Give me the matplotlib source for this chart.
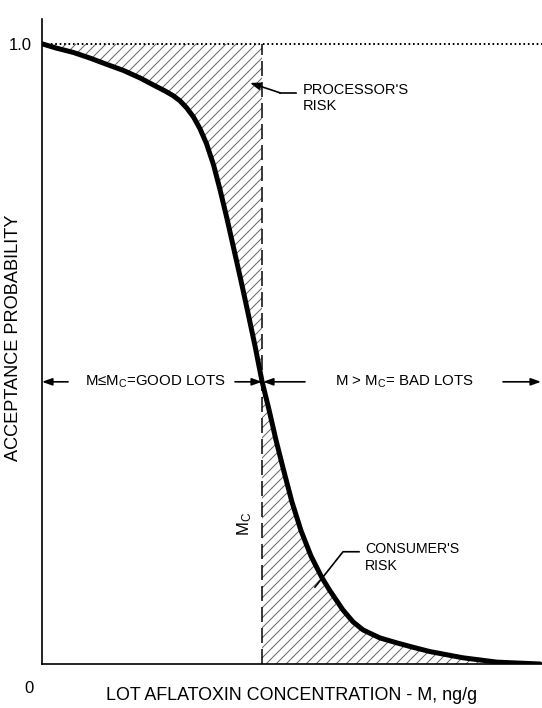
import matplotlib
matplotlib.use("Agg")
import matplotlib.pyplot as plt

plt.rcParams['font.family'] = ['Liberation Sans', 'DejaVu Sans']
plt.rcParams['mathtext.fontset'] = 'custom'
plt.rcParams['mathtext.rm'] = 'Liberation Sans'
plt.rcParams['mathtext.it'] = 'Liberation Sans:italic'
plt.rcParams['hatch.linewidth'] = 0.6
plt.rcParams['lines.scale_dashes'] = False

# ---- data ----
conc = [0.00, 0.29, 0.63, 0.96, 1.29, 1.63, 1.96, 2.29, 2.46, 2.63, 2.76, 2.89,
        3.03, 3.16, 3.29, 3.43, 3.56, 3.70, 3.84, 3.98, 4.12, 4.26, 4.40, 4.54,
        4.68, 4.84, 5.00, 5.18, 5.38, 5.60, 5.76, 6.02, 6.22, 6.42, 6.60, 6.76,
        7.10, 7.42, 7.76, 8.42, 9.10, 9.96]
prob = [1.000, 0.993, 0.986, 0.977, 0.967, 0.957, 0.945, 0.931, 0.924, 0.916, 0.908, 0.897,
        0.882, 0.863, 0.839, 0.805, 0.765, 0.718, 0.668, 0.618, 0.566, 0.513, 0.456, 0.410,
        0.361, 0.310, 0.261, 0.215, 0.174, 0.139, 0.118, 0.087, 0.068, 0.055, 0.048, 0.042,
        0.034, 0.027, 0.020, 0.010, 0.003, 0.000]
m_c = 4.4
ytick_vals = [1.0]
ytick_labels = ['1.0']
xlabel = 'LOT AFLATOXIN CONCENTRATION - M, ng/g'
ylabel = 'ACCEPTANCE PROBABILITY'

fig = plt.figure(figsize=(542 / 120, 708 / 120), dpi=120)
ax = fig.add_axes([42 / 542, 44 / 708, 500 / 542, 645 / 708])
ax.set_xlim(0, 10)
ax.set_ylim(0, 1.04)

for s in ['top', 'right']:
    ax.spines[s].set_visible(False)
for s in ['left', 'bottom']:
    ax.spines[s].set_linewidth(1.0)
    ax.spines[s].set_color('black')

# hatched risk regions
left_x = [x for x in conc if x <= m_c]
left_p = prob[:len(left_x)]
right_x = [x for x in conc if x >= m_c]
right_p = prob[len(conc) - len(right_x):]
ax.fill_between(left_x, left_p, 1.0, facecolor='none', edgecolor='#666666',
                linewidth=0, hatch='////')
ax.fill_between(right_x, 0, right_p, facecolor='none', edgecolor='#666666',
                linewidth=0, hatch='////')

# OC curve
ax.plot(conc, prob, color='black', linewidth=3.0, solid_capstyle='round',
        solid_joinstyle='round', zorder=5)

# dotted line at 1.0
ax.axhline(1.0, color='black', linestyle=':', linewidth=1.2, zorder=4)

# M_C dashed line
ax.plot([m_c, m_c], [0, 1.0], color='black', linewidth=0.9, dashes=(9, 3.6), zorder=4)
ax.text(4.06, 0.226, r'M$_\mathrm{C}$', rotation=90, ha='center', va='center', fontsize=10)

# ticks
ax.set_xticks([])
ax.set_yticks(ytick_vals)
ax.set_yticklabels(ytick_labels, fontsize=10)
ax.tick_params(axis='y', length=0, pad=6)
ax.text(-0.26, -0.04, '0', ha='center', va='center', fontsize=10)

ax.set_xlabel(xlabel, fontsize=10.7, labelpad=14)
fig.text(14 / 542, 1 - 338 / 708, ylabel, rotation=90, ha='center', va='center',
         fontsize=10.9)

# good / bad lot arrows
ya = 0.455
ap = dict(arrowstyle='-|>,head_length=0.5,head_width=0.18', color='black', lw=1.0,
          shrinkA=0, shrinkB=0)
ax.annotate('', xy=(0.0, ya), xytext=(0.52, ya), arrowprops=ap)
ax.text(0.86, ya, r'M≤M$_\mathrm{C}$=GOOD LOTS', ha='left', va='center', fontsize=9)
ax.annotate('', xy=(4.4, ya), xytext=(3.86, ya), arrowprops=ap)
ax.annotate('', xy=(4.42, ya), xytext=(5.26, ya), arrowprops=ap)
ax.text(5.86, ya, r'M > M$_\mathrm{C}$= BAD LOTS', ha='left', va='center', fontsize=9)
ax.annotate('', xy=(9.98, ya), xytext=(9.22, ya), arrowprops=ap, annotation_clip=False)

# processor's risk label
ax.plot([5.08, 4.76], [0.921, 0.921], color='black', lw=1.0)
ax.annotate('', xy=(4.16, 0.937), xytext=(4.76, 0.921), arrowprops=ap)
ax.text(5.22, 0.937, "PROCESSOR'S\nRISK", ha='left', va='top', fontsize=8.8, linespacing=1.2)

# consumer's risk label
ax.plot([6.34, 6.02, 5.46], [0.181, 0.181, 0.124], color='black', lw=1.0)
ax.text(6.46, 0.196, "CONSUMER'S\nRISK", ha='left', va='top', fontsize=8.5, linespacing=1.2)

fig.savefig('out.png', dpi=120)
